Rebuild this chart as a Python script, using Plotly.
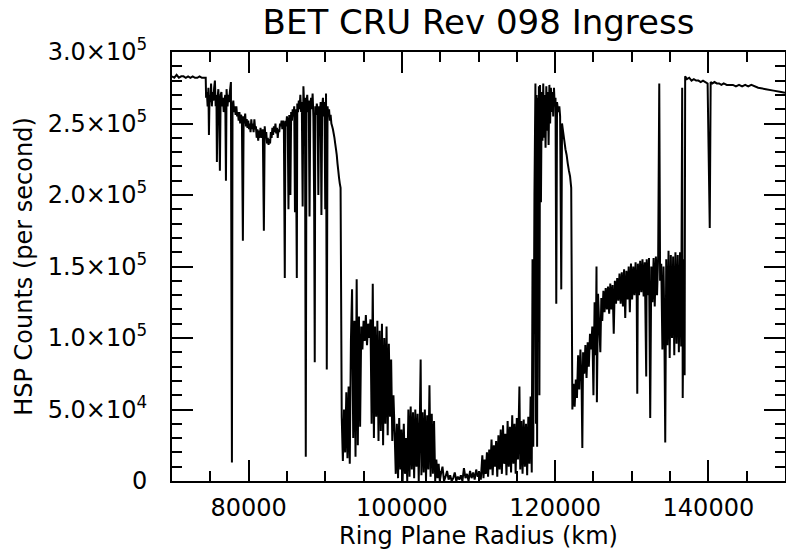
import plotly.graph_objects as go

# Ring plane radius (km) and HSP counts (thousands of counts per second)
r_free = [70000, 70300, 70600, 70900, 71200, 71500, 71800, 72100, 72400, 72700, 73000, 73300, 73600, 73900, 74200, 74400]
c_free = [283, 282, 284, 282, 283, 283, 282, 283, 282, 283, 282, 282, 283, 282, 282, 282]

r_cring = [74450, 74550, 74650, 74750, 74820, 74900, 75000, 75100, 75200, 75300, 75400, 75500, 75600, 75700, 75800, 75860,
           75950, 76050, 76150, 76250, 76350, 76450, 76550, 76650, 76750, 76850, 76950, 77040, 77120, 77250, 77350, 77450,
           77550, 77690, 77820, 77900, 78000, 78100, 78200, 78300, 78400, 78500, 78600, 78700, 78800, 78900, 79000, 79120,
           79250, 79350, 79450, 79550, 79650, 79750, 79850, 79950, 80050, 80160, 80250, 80350, 80450, 80550, 80650, 80750,
           80850, 80950, 81050, 81150, 81250, 81350, 81450, 81550, 81650, 81750, 81850, 81990, 82100, 82200, 82300, 82400,
           82500, 82600, 82700, 82800, 82900, 83000, 83100, 83200, 83300, 83400, 83500, 83600, 83700, 83800, 83900, 84000,
           84100, 84200, 84300, 84400, 84500, 84600, 84720, 84800, 84900, 85000, 85100, 85200, 85300, 85380, 85450, 85550,
           85650, 85750, 85850, 85950, 86050, 86150, 86290, 86350, 86450, 86550, 86650, 86750, 86850, 86940, 87050, 87150,
           87250, 87350, 87460, 87550, 87650, 87750, 87850, 87950, 88050, 88150, 88250, 88350, 88450, 88550, 88630, 88700,
           88800, 88900, 89000, 89100, 89200, 89290, 89400, 89500, 89600, 89700, 89800, 89900, 90000, 90100, 90200, 90300,
           90400, 90500, 90600, 90700, 90800, 90900, 91000, 91100, 91200, 91300, 91400, 91500, 91600, 91700, 91800, 91900,
           92000]
c_cring = [268, 272, 262, 275, 242, 270, 265, 278, 262, 272, 266, 275, 280, 262, 270, 223,
           268, 274, 260, 217, 270, 272, 262, 268, 258, 266, 270, 210, 274, 262, 270, 265,
           272, 279, 13, 262, 266, 258, 262, 256, 262, 255, 258, 252, 258, 250, 256, 254,
           168, 255, 250, 257, 248, 253, 247, 252, 246, 250, 244, 253, 246, 250, 244, 253,
           246, 248, 240, 246, 238, 245, 240, 247, 242, 240, 246, 175, 248, 240, 244, 236,
           240, 235, 239, 236, 244, 240, 247, 242, 248, 244, 250, 243, 247, 240, 246, 244,
           250, 248, 252, 246, 252, 248, 142, 252, 248, 255, 251, 190, 256, 252, 200, 258,
           252, 260, 255, 262, 188, 260, 142, 264, 258, 266, 260, 270, 258, 265, 192, 276,
           262, 268, 17, 264, 270, 258, 266, 185, 262, 268, 260, 271, 255, 195, 83, 262,
           256, 264, 258, 200, 262, 255, 265, 186, 262, 268, 255, 265, 190, 271, 78, 262,
           255, 260, 252, 256, 250, 248, 246, 243, 240, 236, 232, 228, 222, 217, 212, 208,
           205]

r_bring = [92150, 92300, 92450, 92600, 92750, 92900, 93050, 93200, 93350, 93500, 93650, 93800, 93950, 94100, 94250, 94400,
           94550, 94700, 94850, 95000, 95150, 95300, 95450, 95600, 95750, 95900, 96050, 96200, 96350, 96500, 96650, 96800,
           96950, 97100, 97250, 97400, 97550, 97700, 97850, 98000, 98150, 98300, 98450, 98600, 98750, 98900, 99050, 99200,
           99350, 99500, 99650, 99800, 99950, 100100, 100250, 100400, 100550, 100700, 100850, 101000, 101150, 101300, 101450, 101600,
           101750, 101900, 102050, 102200, 102350, 102450, 102550, 102700, 102850, 103000, 103150, 103300, 103450, 103600, 103750, 103900,
           104050, 104200, 104350, 104500, 104650, 104800, 104950, 105100, 105300, 105500, 105700, 105900, 106100, 106300, 106500, 106700,
           106900, 107100, 107300, 107500, 107700, 107900, 108100, 108300, 108500, 108700, 108900, 109100, 109300, 109500, 109700, 109900,
           110100, 110300, 110500, 110650, 110800, 110950, 111100, 111250, 111400, 111550, 111700, 111850, 112000, 112150, 112300, 112450,
           112600, 112750, 112900, 113050, 113200, 113350, 113500, 113650, 113800, 113950, 114100, 114250, 114400, 114550, 114700, 114850,
           115000, 115150, 115340, 115450, 115600, 115750, 115900, 116050, 116200, 116350, 116500, 116650, 116800, 116950, 117050, 117150,
           117300]
c_bring = [45, 14, 50, 20, 62, 16, 66, 12, 98, 134, 30, 112, 17, 141, 25, 115,
           38, 108, 92, 112, 98, 116, 95, 110, 100, 113, 40, 138, 30, 108, 45, 112,
           28, 105, 35, 110, 25, 100, 40, 108, 32, 96, 45, 85, 28, 60, 35, 5,
           40, 2, 44, 8, 36, 0, 40, 5, 30, 0, 50, 3, 52, 8, 48, 2,
           50, 10, 47, 0, 45, 85, 4, 48, 6, 50, 0, 46, 8, 67, 3, 47,
           5, 42, 0, 15, 2, 12, 0, 5, 10, 0, 3, 7, 1, 4, 0, 2,
           6, 0, 3, 1, 4, 0, 9, 2, 5, 0, 7, 2, 6, 1, 8, 3,
           6, 1, 18, 2, 15, 5, 20, 3, 22, 8, 29, 4, 25, 10, 28, 3,
           32, 8, 36, 5, 39, 12, 33, 4, 42, 10, 38, 6, 46, 12, 40, 5,
           44, 15, 66, 8, 42, 5, 43, 10, 40, 4, 45, 12, 59, 6, 155, 24,
           200]

r_cassini = [117430, 117500, 117580, 117650, 117730, 117800, 117880, 117950, 118030, 118150, 118250, 118350, 118450, 118550, 118650, 118750,
             118850, 118950, 119050, 119150, 119250, 119350, 119450, 119550, 119650, 119750, 119850, 119950, 120050, 120150, 120250, 120400,
             120550, 120650, 120800, 120900, 121050, 121200, 121350, 121500, 121650, 121800, 121950, 122100]
c_cassini = [278, 40, 270, 24, 268, 120, 276, 60, 277, 195, 272, 238, 278, 240, 270, 233,
             276, 245, 272, 235, 277, 250, 275, 258, 272, 255, 275, 262, 268, 124, 265, 258,
             262, 255, 134, 250, 244, 238, 232, 228, 222, 217, 213, 205]

r_aring = [122250, 122400, 122550, 122700, 122850, 123000, 123150, 123300, 123450, 123550, 123650, 123800, 123950, 124100, 124250, 124400,
           124550, 124700, 124850, 125000, 125150, 125300, 125400, 125450, 125600, 125750, 125900, 126030, 126150, 126300, 126450, 126600,
           126750, 126900, 127050, 127200, 127350, 127500, 127650, 127800, 127950, 128100, 128250, 128400, 128550, 128700, 128850, 129000,
           129150, 129300, 129450, 129600, 129750, 129900, 130050, 130200, 130350, 130500, 130650, 130720, 130800, 130950, 131100, 131250,
           131400, 131550, 131700, 131890, 131950, 132100, 132250, 132410, 132550, 132700, 132850, 133000, 133150, 133300, 133450, 133590,
           133700, 133850, 134000, 134150, 134250, 134370, 134500, 134650, 134800, 134950, 135100, 135250, 135400, 135550, 135700, 135850,
           136000, 136150, 136300, 136450, 136580, 136650, 136800, 136900]
c_aring = [50, 68, 52, 71, 58, 88, 64, 92, 70, 23, 90, 75, 95, 72, 97, 80,
           103, 92, 108, 60, 125, 88, 150, 55, 131, 110, 90, 128, 112, 133, 118, 135,
           120, 136, 117, 138, 120, 137, 103, 140, 124, 142, 126, 145, 124, 146, 122, 148,
           114, 147, 127, 150, 118, 152, 127, 150, 130, 153, 128, 61, 152, 130, 154, 132,
           155, 129, 153, 73, 155, 130, 156, 44, 150, 125, 156, 122, 157, 130, 158, 278,
           140, 152, 92, 150, 110, 27, 155, 95, 161, 86, 158, 100, 157, 88, 160, 96,
           158, 90, 160, 94, 275, 58, 155, 74]

r_outer = [136970, 137200, 137500, 137800, 138100, 138400, 138700, 139000, 139300, 139600, 139900, 140180, 140300, 140500, 140800, 141100,
           141400, 141700, 142000, 142400, 142800, 143200, 143600, 144000, 144400, 144800, 145200, 145600, 146500, 147500, 148500, 149500,
           150000]
c_outer = [283, 281, 282, 280, 281, 280, 280, 279, 280, 279, 278, 177, 279, 278, 279, 278,
           278, 277, 278, 277, 277, 277, 276, 277, 276, 277, 276, 277, 275, 274, 273, 272,
           271.5]

radius = r_free + r_cring + r_bring + r_cassini + r_aring + r_outer
counts = [v * 1000 for v in (c_free + c_cring + c_bring + c_cassini + c_aring + c_outer)]

y_tickvals = [0, 50000, 100000, 150000, 200000, 250000, 300000]
y_ticktext = ["0", "5.0×10<sup>4</sup>", "1.0×10<sup>5</sup>", "1.5×10<sup>5</sup>",
              "2.0×10<sup>5</sup>", "2.5×10<sup>5</sup>", "3.0×10<sup>5</sup>"]

FONT = "DejaVu Sans"

fig = go.Figure()
fig.add_trace(go.Scatter(x=radius, y=counts, mode="lines",
                         line=dict(color="black", width=2, simplify=False),
                         showlegend=False, hoverinfo="skip"))

fig.update_layout(
    width=786, height=550,
    margin=dict(l=172, r=1, t=52, b=69, autoexpand=False),
    paper_bgcolor="white", plot_bgcolor="white",
    font=dict(family=FONT, size=24, color="black"),
    title=dict(text="BET CRU Rev 098 Ingress", font=dict(family=FONT, size=34, color="black"),
               x=0.5, xanchor="center", xref="paper", y=0.96, yref="container", yanchor="middle"),
)

common = dict(showline=True, linewidth=2, linecolor="black", mirror="allticks",
              ticks="inside", tickwidth=2, ticklen=21, tickcolor="black",
              showgrid=False, zeroline=False, automargin=False,
              tickfont=dict(family=FONT, size=24, color="black"))

fig.update_xaxes(range=[70000, 150000], tickmode="linear", tick0=0, dtick=20000, tickformat="d",
                 minor=dict(ticks="inside", ticklen=10, tickwidth=2, tickcolor="black",
                            tickmode="linear", tick0=0, dtick=5000, showgrid=False),
                 title=dict(text="Ring Plane Radius (km)", font=dict(family=FONT, size=24, color="black"), standoff=2),
                 ticklabelstandoff=4,
                 **common)
fig.update_yaxes(range=[0, 300000], tickmode="array", tickvals=y_tickvals, ticktext=y_ticktext,
                 minor=dict(ticks="inside", ticklen=10, tickwidth=2, tickcolor="black",
                            tickmode="linear", tick0=0, dtick=10000, showgrid=False),
                 title=dict(text="HSP Counts (per second)", font=dict(family=FONT, size=24, color="black"), standoff=8),
                 ticklabelstandoff=18,
                 **common)

fig.write_html("out.html", config={"displayModeBar": False},
               post_script="document.body.style.margin='0';document.body.style.overflow='hidden';")
